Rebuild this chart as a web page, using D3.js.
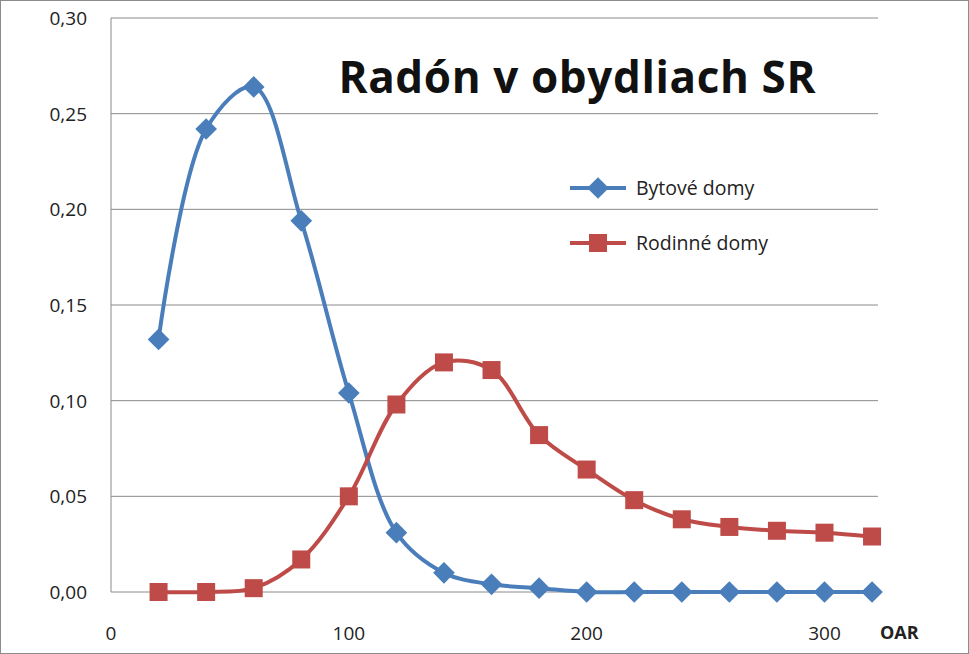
<!DOCTYPE html>
<html><head><meta charset="utf-8">
<script src="https://cdn.jsdelivr.net/npm/d3@7"></script>
<style>body{margin:0;background:#fff}svg{display:block}</style>
</head><body>
<div id="chart"></div>
<script>
'use strict'

// --- data
const oar = [20, 40, 60, 80, 100, 120, 140, 160, 180, 200, 220, 240, 260, 280, 300, 320]
const bytove = [0.132, 0.242, 0.264, 0.194, 0.104, 0.031, 0.010, 0.004, 0.002, 0, 0, 0, 0, 0, 0, 0]
const rodinne = [0, 0, 0.002, 0.017, 0.050, 0.098, 0.120, 0.116, 0.082, 0.064, 0.048, 0.038, 0.034, 0.032, 0.031, 0.029]
const yTicks = [0, 0.05, 0.10, 0.15, 0.20, 0.25, 0.30]
const xTicks = [0, 100, 200, 300]

const W = 969, H = 654
const svg = d3.select('#chart').append('svg').attr('width', W).attr('height', H)
const font = '"Open Sans", "Liberation Sans", sans-serif'

svg.append('rect').attr('x', 0.5).attr('y', 0.5).attr('width', W - 1).attr('height', H - 1)
    .attr('fill', '#fff').attr('stroke', '#8c8c8c')

const x = d3.scaleLinear().domain([0, 322.5]).range([111, 878])
const y = d3.scaleLinear().domain([0, 0.30]).range([592, 18])

// grid
svg.append('g').selectAll('line').data(yTicks).join('line')
    .attr('x1', x(0)).attr('x2', x(322.5)).attr('y1', d => y(d)).attr('y2', d => y(d))
    .attr('stroke', '#8a8a8a').attr('stroke-width', 1)
svg.append('line').attr('x1', x(0)).attr('x2', x(0)).attr('y1', y(0)).attr('y2', y(0.30))
    .attr('stroke', '#8a8a8a')

svg.append('g').selectAll('text').data(yTicks).join('text')
    .attr('x', 87).attr('y', d => y(d) + 7).attr('text-anchor', 'end')
    .attr('font-family', font).attr('font-size', 19).attr('fill', '#222')
    .text(d => d3.format('.2f')(d).replace('.', ','))
svg.append('g').selectAll('text').data(xTicks).join('text')
    .attr('x', d => x(d)).attr('y', 640).attr('text-anchor', 'middle')
    .attr('font-family', font).attr('font-size', 19).attr('fill', '#222')
    .text(d => d)
svg.append('text').attr('x', 880).attr('y', 639).attr('font-family', font)
    .attr('font-size', 18).attr('font-weight', 'bold').attr('fill', '#222').text('OAR')

const line = d3.line().x(d => x(d[0])).y(d => y(d[1])).curve(d3.curveCatmullRom.alpha(0.5))

const blue = '#4a7ebb', red = '#be4b48'
const diamond = d3.symbol().type(d3.symbolDiamond2).size(300)

function series(vals, color, marker) {
    const pts = oar.map((o, i) => [o, vals[i]])
    svg.append('path').attr('d', line(pts)).attr('fill', 'none')
        .attr('stroke', color).attr('stroke-width', 4)
    const g = svg.append('g')
    pts.forEach(p => marker(g, x(p[0]), y(p[1])))
}
const drawDiamond = (g, cx, cy) => g.append('path').attr('d', diamond())
    .attr('transform', `translate(${cx},${cy})`).attr('fill', blue)
const drawSquare = (g, cx, cy) => g.append('rect').attr('x', cx - 9).attr('y', cy - 9)
    .attr('width', 18).attr('height', 18).attr('fill', red)

series(bytove, blue, drawDiamond)
series(rodinne, red, drawSquare)

// legend
const leg = svg.append('g')
leg.append('line').attr('x1', 570).attr('x2', 626).attr('y1', 188).attr('y2', 188).attr('stroke', blue).attr('stroke-width', 4)
drawDiamond(leg, 598, 188)
leg.append('text').attr('x', 636).attr('y', 195).attr('font-family', font).attr('font-size', 19.5).attr('fill', '#222').text('Bytové domy')
leg.append('line').attr('x1', 570).attr('x2', 626).attr('y1', 243).attr('y2', 243).attr('stroke', red).attr('stroke-width', 4)
drawSquare(leg, 598, 243)
leg.append('text').attr('x', 636).attr('y', 250).attr('font-family', font).attr('font-size', 19.5).attr('fill', '#222').text('Rodinné domy')

svg.append('text').attr('x', 577).attr('y', 93).attr('text-anchor', 'middle')
    .attr('font-family', font).attr('font-size', 44).attr('font-weight', 'bold')
    .attr('fill', '#111').attr('textLength', 477).text('Radón v obydliach SR')
</script>
</body></html>
